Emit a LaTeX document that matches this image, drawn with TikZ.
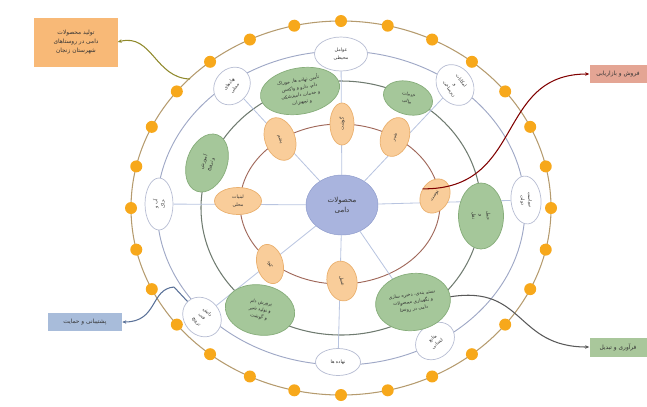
\documentclass[tikz,border=0pt]{standalone}
\usepackage{fontspec}
\usetikzlibrary{arrows.meta, shapes.geometric}
\newfontfamily\arabicfont[Script=Arabic]{DejaVu Sans}
\TeXXeTstate=1
\newcommand{\fatext}[1]{{\arabicfont\beginR #1\endR}}

\definecolor{DotOrange}{HTML}{F7A81B}
\definecolor{OuterRing}{HTML}{B59B6E}
\definecolor{FactorRing}{HTML}{9FA8C6}
\definecolor{LinkRing}{HTML}{6F7B70}
\definecolor{ProdRing}{HTML}{A0685A}
\definecolor{SpokeBlue}{HTML}{B8C4E0}
\definecolor{ProdFill}{HTML}{F9CD9A}
\definecolor{ProdLine}{HTML}{EAB06E}
\definecolor{LinkFill}{HTML}{A5C79A}
\definecolor{LinkLine}{HTML}{86AD7A}
\definecolor{FactorLine}{HTML}{B7BDD3}
\definecolor{CoreFill}{HTML}{A9B4DE}
\definecolor{CoreLine}{HTML}{8D9BCB}
\definecolor{BoxOrange}{HTML}{F8B977}
\definecolor{BoxRed}{HTML}{E4A594}
\definecolor{BoxGreen}{HTML}{A9C79B}
\definecolor{BoxBlue}{HTML}{A8BCDA}
\definecolor{SupportLine}{HTML}{5A7198}

\begin{document}
\begin{tikzpicture}[x=0.03cm, y=-0.03cm,
    every node/.style={font=\fontsize{4}{6.2}\selectfont, align=center, text=black!80},
    factor/.style={ellipse, draw=FactorLine, fill=white, line width=0.6pt, inner sep=0pt},
    link/.style={ellipse, draw=LinkLine, fill=LinkFill, line width=0.6pt, inner sep=0pt},
    prod/.style={ellipse, draw=ProdLine, fill=ProdFill, line width=0.6pt, inner sep=0pt},
    dot/.style={circle, fill=DotOrange, minimum size=0.36cm, inner sep=0pt},
    tagbox/.style={rectangle, inner sep=2pt, font=\fontsize{5}{7.5}\selectfont},
    spoke/.style={draw=SpokeBlue, line width=0.7pt},
    feed/.style={-{Stealth[length=3.5pt, width=3pt]}, line width=0.9pt}]
    \useasboundingbox (0,0) rectangle (647,406);
    \coordinate (c) at (341,208);

    % Rings
    \draw[OuterRing, line width=0.9pt] (c) ellipse [x radius=210, y radius=187];
    \draw[FactorRing, line width=0.8pt] (c) ellipse [x radius=184, y radius=157];
    \draw[LinkRing, line width=0.9pt] (c) ellipse [x radius=140, y radius=127];
    \draw[ProdRing, line width=0.8pt] (340,204) ellipse [x radius=100, y radius=80];

    % Centre and outer factors
    \node[ellipse, draw=CoreLine, fill=CoreFill, minimum width=2.16cm, minimum height=1.8cm,
          font=\fontsize{6}{8.5}\selectfont] (core) at (342,205) {\fatext{محصولات}\\\fatext{دامی}};
    \node[factor, minimum width=1.59cm, minimum height=1.02cm] (fac1) at (341,54) {\fatext{عوامل}\\\fatext{محیطی}};
    \node[factor, minimum width=1.3cm, minimum height=1.05cm, rotate=-55] (fac2) at (455,85) {\fatext{امکانات}\\\fatext{و}\\\fatext{زیرساخت}};
    \node[factor, minimum width=1.44cm, minimum height=0.9cm, rotate=-85] (fac3) at (526,200) {\fatext{سیاست}\\\fatext{دولت}};
    \node[factor, minimum width=1.26cm, minimum height=1.02cm, rotate=40] (fac4) at (435,341) {\fatext{منابع}\\\fatext{انسانی}};
    \node[factor, minimum width=1.35cm, minimum height=0.81cm] (fac5) at (338,362) {\fatext{نهاده ها}};
    \node[factor, minimum width=1.26cm, minimum height=1.08cm, rotate=-50] (fac6) at (202,317) {\fatext{دانش}\\\fatext{فنی}\\\fatext{ترویج}};
    \node[factor, minimum width=1.56cm, minimum height=0.84cm, rotate=90] (fac7) at (159,204) {\fatext{آب و}\\\fatext{خاک}};
    \node[factor, minimum width=1.2cm, minimum height=1.02cm, rotate=50] (fac8) at (232,86) {\fatext{نهادهای}\\\fatext{محلی}};

    % Spokes
    \foreach \k in {1,...,8}
        \draw[spoke] (core) -- (fac\k);

    % Links of the chain
    \node[link, minimum width=1.8cm, minimum height=1.2cm, rotate=70] (link1) at (207,163) {\fatext{آموزش}\\\fatext{و ترویج}};
    \node[link, minimum width=2.4cm, minimum height=1.38cm, rotate=10] (link2) at (300,91)
        {\fatext{تأمین نهاده ها، خوراک}\\\fatext{دام، دارو و واکسن}\\\fatext{و خدمات دامپزشکی}\\\fatext{و تجهیزات}};
    \node[link, minimum width=1.5cm, minimum height=0.99cm, rotate=-15] (link3) at (408,98) {\fatext{خدمات}\\\fatext{مالی}};
    \node[link, minimum width=1.98cm, minimum height=1.35cm, rotate=-90] (link4) at (481,216) {\fatext{حمل}\\\fatext{و}\\\fatext{نقل}};
    \node[link, minimum width=2.25cm, minimum height=1.71cm, rotate=8] (link5) at (413,302)
        {\fatext{بسته بندی، ذخیره سازی}\\\fatext{و نگهداری محصولات}\\\fatext{دامی در روستا}};
    \node[link, minimum width=2.1cm, minimum height=1.5cm, rotate=-10] (link6) at (260,310)
        {\fatext{پرورش دام}\\\fatext{و تولید شیر}\\\fatext{و گوشت}};

    % Products
    \node[prod, minimum width=1.41cm, minimum height=0.81cm] (prod1) at (238,201) {\fatext{لبنیات}\\\fatext{محلی}};
    \node[prod, minimum width=1.32cm, minimum height=0.9cm, rotate=-70] (prod2) at (280,139) {\fatext{پشم}};
    \node[prod, minimum width=1.26cm, minimum height=0.72cm, rotate=90] (prod3) at (342,124) {\fatext{گوشت}};
    \node[prod, minimum width=1.2cm, minimum height=0.84cm, rotate=70] (prod4) at (395,137) {\fatext{شیر}};
    \node[prod, minimum width=1.08cm, minimum height=0.84cm, rotate=60] (prod5) at (435,196) {\fatext{پوست}};
    \node[prod, minimum width=1.2cm, minimum height=0.78cm, rotate=-75] (prod6) at (270,264) {\fatext{کود}};
    \node[prod, minimum width=1.2cm, minimum height=0.9cm, rotate=-80] (prod7) at (342,281) {\fatext{عسل}};

    % Dots on the outer ring
    \foreach \i in {0,...,27}
        \node[dot] (dot\i) at ({341+210*cos(\i*360/28)}, {208+187*sin(\i*360/28)}) {};
    \coordinate (inputjoin) at (190,79);
    \coordinate (supportjoin) at (174,287);

    % Side boxes
    \node[tagbox, fill=BoxOrange, minimum width=2.49cm, minimum height=1.47cm] (inputbox) at (76,42)
        {\fatext{تولید محصولات}\\\fatext{دامی در روستاهای}\\\fatext{شهرستان زنجان}};
    \node[tagbox, fill=BoxRed, minimum width=1.71cm, minimum height=0.54cm] (salebox) at (618,74) {\fatext{فروش و بازاریابی}};
    \node[tagbox, fill=BoxGreen, minimum width=1.71cm, minimum height=0.57cm] (procbox) at (618,347) {\fatext{فرآوری و تبدیل}};
    \node[tagbox, fill=BoxBlue, minimum width=2.22cm, minimum height=0.54cm] (supportbox) at (85,322) {\fatext{پشتیبانی و حمایت}};

    % Connectors to the boxes
    \draw[feed, draw=olive!70!gray] (inputjoin) .. controls (155,78) and (152,33) .. (inputbox.east);
    \draw[feed, draw=red!50!black] (prod5.north) .. controls (525,190) and (495,74) .. (salebox.west);
    \draw[feed, draw=black!65] (link5.east) .. controls (525,285) and (515,347) .. (procbox.west);
    \draw[line width=0.9pt, draw=SupportLine] (fac6) -- (supportjoin);
    \draw[feed, draw=SupportLine] (supportjoin) .. controls (150,289) and (158,322) .. (supportbox.east);
\end{tikzpicture}
\end{document}
